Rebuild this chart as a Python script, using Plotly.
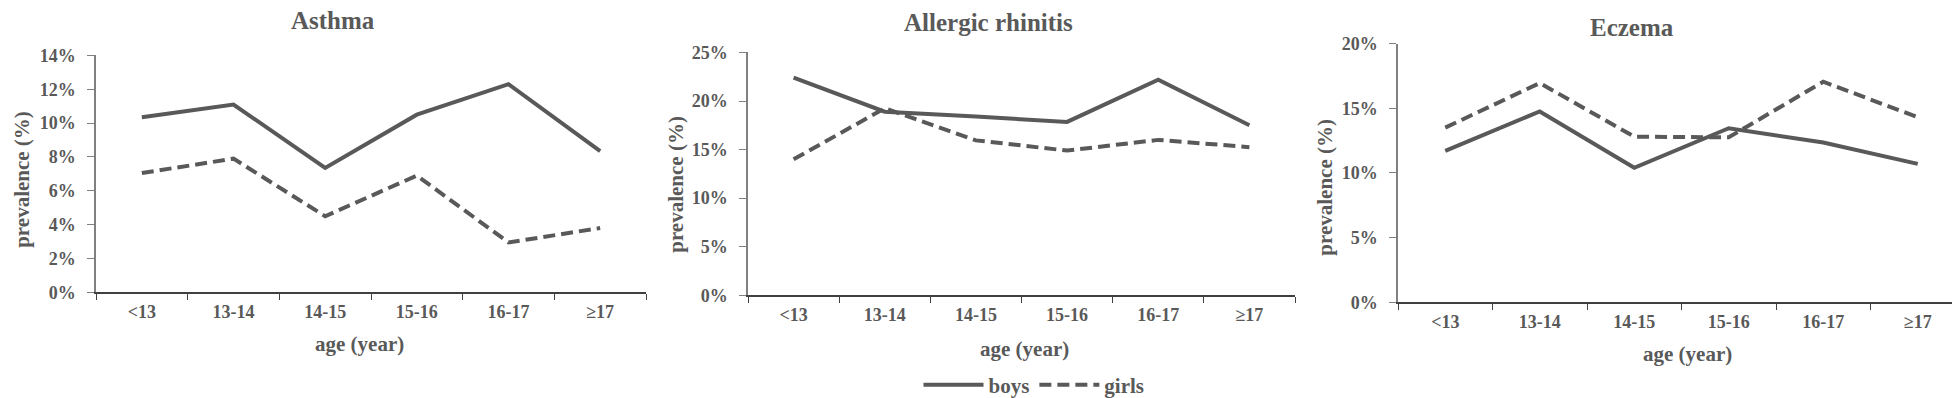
import plotly.graph_objects as go

ages = ["<13", "13-14", "14-15", "15-16", "16-17", "≥17"]

asthma_boys = [10.35, 11.1, 7.35, 10.5, 12.3, 8.35]
asthma_girls = [7.05, 7.9, 4.5, 6.9, 2.95, 3.8]

rhinitis_boys = [22.4, 18.9, 18.4, 17.85, 22.2, 17.5]
rhinitis_girls = [14.0, 19.25, 15.95, 14.9, 16.0, 15.25]

eczema_boys = [11.7, 14.75, 10.4, 13.45, 12.35, 10.7]
eczema_girls = [13.5, 16.95, 12.8, 12.75, 17.05, 14.3]

panel_titles = ["Asthma", "Allergic rhinitis", "Eczema"]
y_max = [14, 25, 20]
y_step = [2, 5, 5]

W, H = 1960, 398
GRAY = "#595959"
FONT = "Liberation Serif"

def fx(px):
    return px / W

def fy(py):
    return 1 - py / H

# pixel layouts for each panel: (x0, x1, ytop, ybottom)
boxes = [(88, 638, 48, 288), (740, 1287, 45, 291), (1390, 1957, 36, 298)]
title_pos = [(325, 13), (981, 15), (1624, 20)]
xtitle_pos = [(351, 340), (1016, 345), (1679, 350)]
ytitle_pos = [(14, 174), (668, 179), (1317, 182)]

series = [(asthma_boys, asthma_girls), (rhinitis_boys, rhinitis_girls), (eczema_boys, eczema_girls)]

fig = go.Figure()
annotations = []
for i, (boys, girls) in enumerate(series):
    n = "" if i == 0 else str(i + 1)
    xa, ya = "x" + n, "y" + n
    fig.add_trace(go.Scatter(x=ages, y=[v / 100 for v in boys], mode="lines", name="boys",
                             line=dict(color=GRAY, width=4), xaxis=xa, yaxis=ya,
                             showlegend=(i == 0)))
    fig.add_trace(go.Scatter(x=ages, y=[v / 100 for v in girls], mode="lines", name="girls",
                             line=dict(color=GRAY, width=4, dash="12px,6px"), xaxis=xa, yaxis=ya,
                             showlegend=(i == 0)))
    x0, x1, yt, yb = boxes[i]
    fig.update_layout(**{
        "xaxis" + n: dict(domain=[fx(x0), fx(x1)], anchor=ya, type="category",
                          range=[-0.5, 5.5], tickson="boundaries", ticks="outside", ticklen=6,
                          tickcolor="#404040", showline=True, linecolor="#404040", linewidth=1.5,
                          showgrid=False, zeroline=False, automargin=False, ticklabelstandoff=2,
                          tickfont=dict(family=FONT, size=18, color=GRAY, weight="bold")),
        "yaxis" + n: dict(domain=[fy(yb), fy(yt)], anchor=xa, range=[0, y_max[i] / 100],
                          dtick=y_step[i] / 100, tick0=0, tickformat=".0%", ticks="outside",
                          ticklen=7, tickcolor="#808080", showline=True, linecolor="#808080",
                          linewidth=1.5, showgrid=False, zeroline=False, automargin=False,
                          ticklabelstandoff=8,
                          tickfont=dict(family=FONT, size=18, color=GRAY, weight="bold")),
    })
    tx, ty = title_pos[i]
    annotations.append(dict(text=panel_titles[i], x=fx(tx), y=fy(ty), xref="paper", yref="paper",
                            xanchor="center", yanchor="middle", showarrow=False,
                            font=dict(family=FONT, size=25, color=GRAY, weight="bold")))
    ax, ay = xtitle_pos[i]
    annotations.append(dict(text="age (year)", x=fx(ax), y=fy(ay), xref="paper", yref="paper",
                            xanchor="center", yanchor="middle", showarrow=False,
                            font=dict(family=FONT, size=21, color=GRAY, weight="bold")))
    bx, by = ytitle_pos[i]
    annotations.append(dict(text="prevalence (%)", x=fx(bx), y=fy(by), xref="paper", yref="paper",
                            xanchor="center", yanchor="middle", showarrow=False, textangle=-90,
                            font=dict(family=FONT, size=21, color=GRAY, weight="bold")))

fig.update_layout(
    width=W, height=H,
    margin=dict(l=0, r=0, t=0, b=0),
    paper_bgcolor="white", plot_bgcolor="white",
    annotations=annotations,
    legend=dict(orientation="h", x=fx(1026), y=fy(382), xanchor="center", yanchor="middle",
                font=dict(family=FONT, size=21, color=GRAY, weight="bold"),
                itemwidth=60, tracegroupgap=0),
)

fig.write_html("out.html")
